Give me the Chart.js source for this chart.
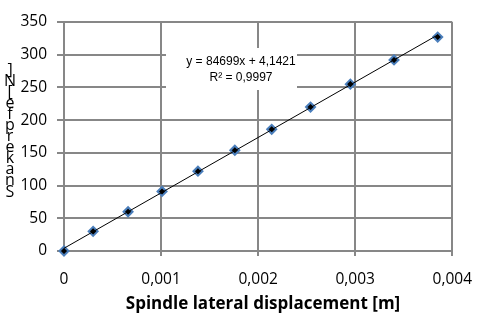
<!DOCTYPE html>
<html>
<head>
<meta charset="utf-8">
<script src="https://cdn.jsdelivr.net/npm/chart.js@4/dist/chart.umd.min.js"></script>
<style>
  html, body { margin: 0; padding: 0; background: #fff; }
  canvas { display: block; }
</style>
</head>
<body>
<canvas id="chart" width="486" height="316"></canvas>
<script>
// measured points
const dispX = [0, 0.0003, 0.00066, 0.00101, 0.00138, 0.00176, 0.00214, 0.00254, 0.00295, 0.0034, 0.00385];
const forceY = [0, 30, 60, 91, 122, 154, 186, 220, 255, 292, 327];
// linear trendline ends
const trendX = [0, 0.00385];
const trendY = [4.14, 330.2];
const xTickLabels = ['0', '0,001', '0,002', '0,003', '0,004'];
const yTickLabels = ['0', '50', '100', '150', '200', '250', '300', '350'];
const xTitle = 'Spindle lateral displacement [m]';
// y title as it shows, letters stacked top-down
const yTitleGlyphs = [']', 'N', '[', 'e', 'f', 'p', 'r', 'e', 'k', 'a', 'n', 'S'];
const eqLines = ['y = 84699x + 4,1421', 'R² = 0,9997'];

const FONT = "'Open Sans', 'Liberation Sans', sans-serif";
const GRID = '#878787';

const textPlugin = {
  id: 'texts',
  afterDraw(chart) {
    const c = chart.ctx;
    const xs = chart.scales.x;
    c.save();
    // equation box
    c.fillStyle = '#fff';
    c.fillRect(166, 48, 131, 42);
    c.fillStyle = '#000';
    c.textAlign = 'center';
    c.textBaseline = 'middle';
    c.font = "12px 'Liberation Sans', sans-serif";
    c.fillText(eqLines[0], 241, 62);
    c.fillText(eqLines[1], 241, 78);
    // x title
    c.font = 'bold 17px ' + FONT;
    c.fillText(xTitle, 263, 304);
    // stacked y title
    c.font = '16px ' + FONT;
    const top = 70, bottom = 192;
    const step = (bottom - top) / (yTitleGlyphs.length - 1);
    yTitleGlyphs.forEach((g, i) => c.fillText(g, 10, top + i * step));
    c.restore();
  }
};

new Chart(document.getElementById('chart'), {
  type: 'scatter',
  data: {
    datasets: [{
      data: dispX.map((x, i) => ({x: x, y: forceY[i]})),
      pointStyle: 'rectRot',
      pointRadius: 4.5,
      pointBackgroundColor: '#000',
      pointBorderColor: '#4a7ebb',
      pointBorderWidth: 2,
      showLine: false,
      clip: false,
      order: 2
    }, {
      data: trendX.map((x, i) => ({x: x, y: trendY[i]})),
      showLine: true,
      borderColor: '#000',
      borderWidth: 1,
      pointRadius: 0,
      order: 1
    }]
  },
  options: {
    responsive: false,
    animation: false,
    layout: { padding: { left: 0, right: 22, top: 22, bottom: 0 } },
    plugins: { legend: { display: false }, tooltip: { enabled: false } },
    scales: {
      x: {
        type: 'linear',
        min: 0, max: 0.004,
        afterFit: s => { s.height = 65; },
        afterBuildTicks: s => { s.ticks = xTickLabels.map((_, i) => ({value: i * 0.001})); },
        ticks: {
          callback: (v, i) => xTickLabels[i],
          color: '#000',
          font: { family: FONT, size: 15.5 },
          padding: 14,
          maxRotation: 0
        },
        grid: { color: GRID, lineWidth: 2, tickLength: 5, tickColor: GRID },
        border: { color: GRID, width: 2 }
      },
      y: {
        min: 0, max: 350,
        afterFit: s => { s.width = 64; },
        afterBuildTicks: s => { s.ticks = yTickLabels.map((_, i) => ({value: i * 50})); },
        ticks: {
          callback: (v, i) => yTickLabels[i],
          color: '#000',
          font: { family: FONT, size: 15.5 },
          padding: 10
        },
        grid: { color: GRID, lineWidth: 2, tickLength: 7, tickColor: GRID },
        border: { color: GRID, width: 2 }
      }
    }
  },
  plugins: [textPlugin]
});
</script>
</body>
</html>
